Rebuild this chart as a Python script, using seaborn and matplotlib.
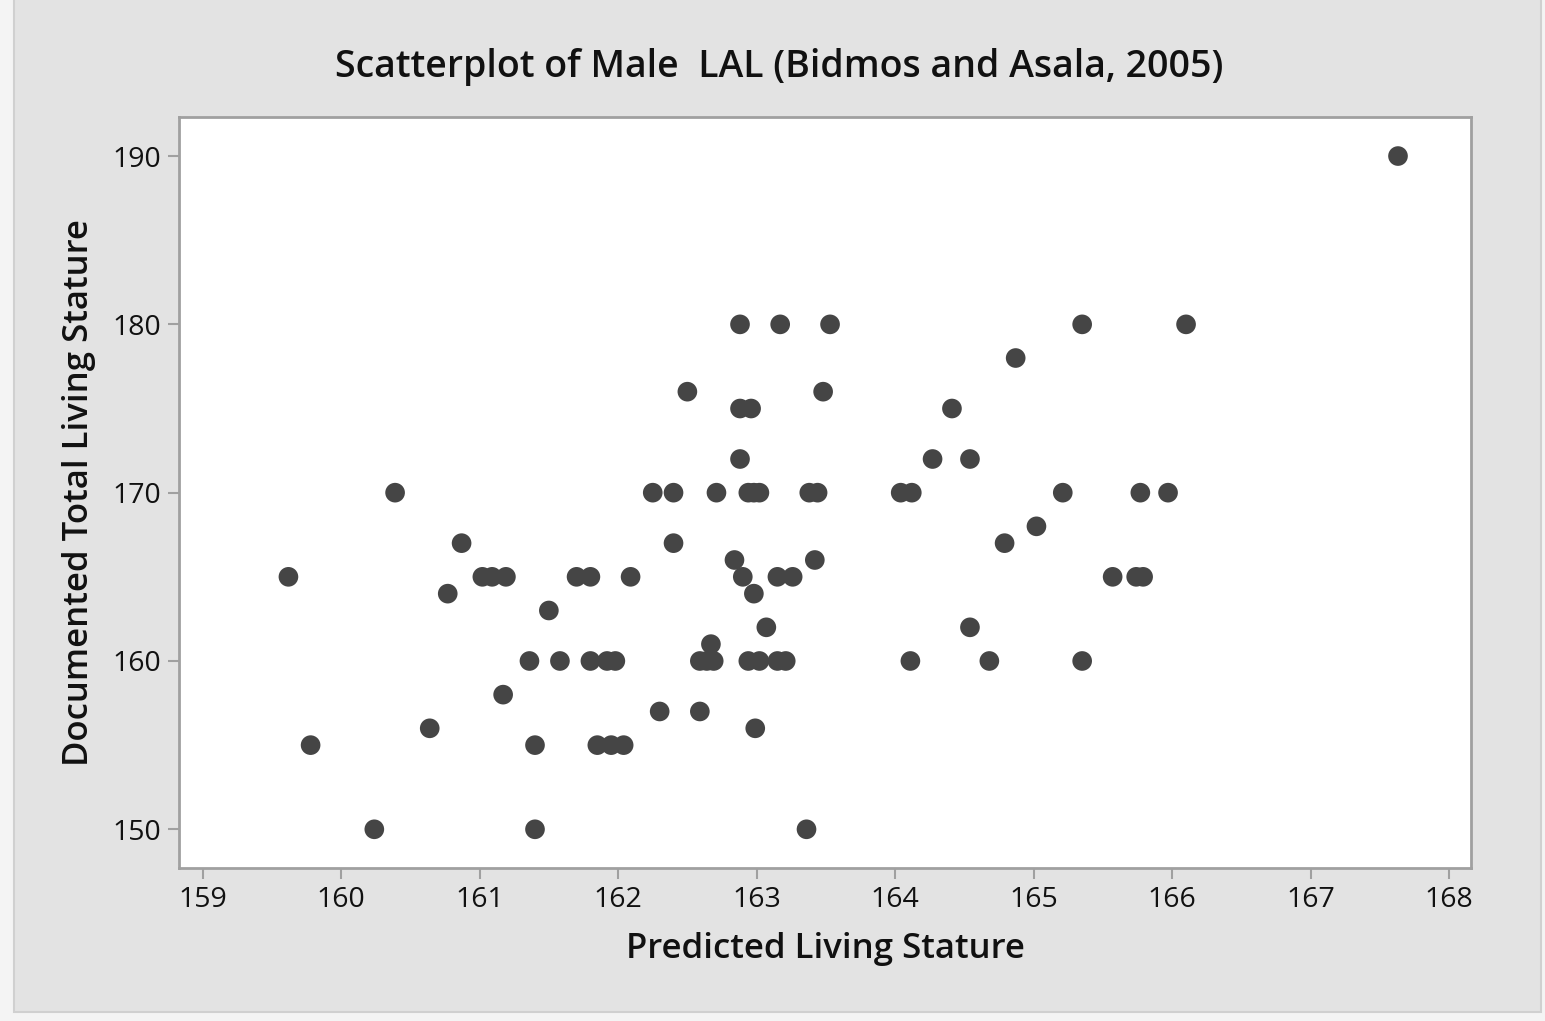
import matplotlib
matplotlib.use("Agg")
import matplotlib.pyplot as plt
import seaborn as sns
import pandas as pd
from matplotlib.patches import Rectangle

predicted = [
    167.63,
    162.88, 163.17, 163.53, 165.35, 166.10,
    164.87,
    162.50, 163.48,
    162.88, 162.96, 164.41,
    162.88, 164.27, 164.54,
    160.39, 162.25, 162.40, 162.71, 162.94, 162.98, 163.02, 163.38, 163.44,
    164.04, 164.12, 165.21, 165.77, 165.97,
    165.02,
    160.87, 162.40, 164.79,
    162.84, 163.42,
    159.62, 161.02, 161.09, 161.19, 161.70, 161.80, 162.09, 162.90, 163.15,
    163.26, 165.57, 165.74, 165.79,
    160.77, 162.98,
    161.50,
    163.07, 164.54,
    162.67,
    161.36, 161.58, 161.80, 161.92, 161.98, 162.59, 162.64, 162.69, 162.94,
    163.02, 163.15, 163.21, 164.11, 164.68, 165.35,
    161.17,
    162.30, 162.59,
    160.64, 162.99,
    159.78, 161.40, 161.85, 161.95, 162.04,
    160.24, 161.40, 163.36,
]
documented = [
    190,
    180, 180, 180, 180, 180,
    178,
    176, 176,
    175, 175, 175,
    172, 172, 172,
    170, 170, 170, 170, 170, 170, 170, 170, 170,
    170, 170, 170, 170, 170,
    168,
    167, 167, 167,
    166, 166,
    165, 165, 165, 165, 165, 165, 165, 165, 165,
    165, 165, 165, 165,
    164, 164,
    163,
    162, 162,
    161,
    160, 160, 160, 160, 160, 160, 160, 160, 160,
    160, 160, 160, 160, 160, 160,
    158,
    157, 157,
    156, 156,
    155, 155, 155, 155, 155,
    150, 150, 150,
]
x_ticks = [159, 160, 161, 162, 163, 164, 165, 166, 167, 168]
y_ticks = [150, 160, 170, 180, 190]

df = pd.DataFrame({"Predicted Living Stature": predicted,
                   "Documented Total Living Stature": documented})

sns.set_theme(style="white")
plt.rcParams["font.family"] = ["Open Sans", "DejaVu Sans"]

W, H = 1545, 1021
fig = plt.figure(figsize=(W / 100, H / 100), dpi=100, facecolor="#f4f4f4")
fig.patches.append(Rectangle((14 / W, 1 - 1012 / H), (1541 - 14) / W, 1012 / H + 0.01,
                             transform=fig.transFigure, facecolor="#e3e3e3",
                             edgecolor="#d0d0d0", linewidth=1.5, zorder=-5))

ax = fig.add_axes([179 / W, 1 - 868 / H, (1471 - 179) / W, (868 - 117) / H])
ax.set_zorder(2)
ax.set_facecolor("white")
sns.scatterplot(data=df, x="Predicted Living Stature", y="Documented Total Living Stature",
                ax=ax, s=200, color="#454545", edgecolor="none", linewidth=0, alpha=1)

ax.set_xlim(158.83, 168.157)
ax.set_ylim(147.70, 192.32)
ax.set_xticks(x_ticks)
ax.set_yticks(y_ticks)
ax.tick_params(axis="both", which="major", direction="out", length=8, width=1.5,
               color="#a0a0a0", labelsize=20.5, labelcolor="#111111", pad=5,
               bottom=True, left=True)
for sp in ax.spines.values():
    sp.set_color("#a0a0a0")
    sp.set_linewidth(2)

ax.set_xlabel("Predicted Living Stature", fontsize=25, fontweight="semibold",
              color="#111111", labelpad=13)
ax.set_ylabel("Documented Total Living Stature", fontsize=25, fontweight="semibold",
              color="#111111", labelpad=12)
fig.text(779 / W, 1 - 67 / H, "Scatterplot of Male  LAL (Bidmos and Asala, 2005)",
         ha="center", va="center", fontsize=27, fontweight="semibold", color="#111111")

fig.savefig("out.png", dpi=100, facecolor=fig.get_facecolor())
